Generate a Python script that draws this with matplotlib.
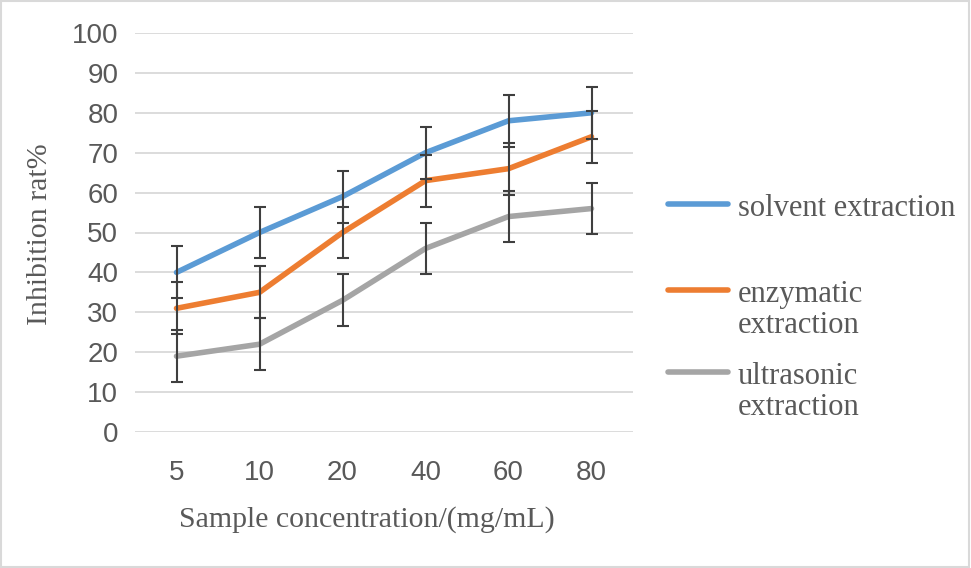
import matplotlib.pyplot as plt
from matplotlib.lines import Line2D
from matplotlib.patches import Rectangle

# data
concentrations = ["5", "10", "20", "40", "60", "80"]
solvent = [40, 50, 59, 70, 78, 80]
enzymatic = [31, 35, 50, 63, 66, 74]
ultrasonic = [19, 22, 33, 46, 54, 56]
solvent_err = [6.5, 6.5, 6.5, 6.5, 6.5, 6.5]
enzymatic_err = [6.5, 6.5, 6.5, 6.5, 6.5, 6.5]
ultrasonic_err = [6.5, 6.5, 6.5, 6.5, 6.5, 6.5]

series_names = ["solvent extraction", "enzymatic\nextraction", "ultrasonic\nextraction"]
colors = ["#5B9BD5", "#ED7D31", "#A5A5A5"]

W, H = 971, 568
fig = plt.figure(figsize=(W / 100, H / 100), dpi=100)
ax = fig.add_axes([135 / W, 1 - 432 / H, (633 - 135) / W, (432 - 33) / H])

x = list(range(len(concentrations)))
for vals, errs, c in zip([solvent, enzymatic, ultrasonic],
                         [solvent_err, enzymatic_err, ultrasonic_err], colors):
    ax.plot(x, vals, color=c, lw=4, solid_capstyle='round', zorder=3)
    ax.errorbar(x, vals, yerr=errs, fmt='none', ecolor='#3F3F3F',
                elinewidth=1.5, capsize=4, capthick=1.5, zorder=4)

ax.set_xlim(-0.5, len(x) - 0.5)
ax.set_ylim(0, 100)
ax.set_yticks(range(0, 101, 10))
ax.set_xticks(x)
ax.set_xticklabels(concentrations)
ax.grid(axis='y', color='#D9D9D9', lw=1.3)
ax.set_axisbelow(True)
for s in ax.spines.values():
    s.set_visible(False)
ax.tick_params(length=0, labelsize=20, labelcolor='#595959')
ax.tick_params(axis='y', pad=12)
ax.tick_params(axis='x', pad=20)
for lab in ax.get_xticklabels() + ax.get_yticklabels():
    lab.set_family('Liberation Sans')

ax.set_xlabel("Sample concentration/(mg/mL)", family='Liberation Serif',
              fontsize=21.5, color='#595959')
ax.xaxis.set_label_coords((367 - 135) / (633 - 135), -(520 - 432) / (432 - 33))
ax.xaxis.label.set_va('center')
ax.set_ylabel("Inhibition rat%", family='Liberation Serif',
              fontsize=21.5, color='#595959')
ax.yaxis.set_label_coords(-(135 - 40) / (633 - 135), (432 - 234) / (432 - 33))
ax.yaxis.label.set_va('center')

# legend drawn by hand so the line sits at the first text line
legend_y = [204, 290, 372]
for name, c, ly in zip(series_names, colors, legend_y):
    fig.add_artist(Line2D([668 / W, 728 / W], [1 - ly / H, 1 - ly / H],
                          color=c, lw=4, solid_capstyle='round'))
    fig.text(738 / W, 1 - (ly - 10) / H, name, family='Liberation Serif',
             fontsize=22, color='#595959', va='top', ha='left', linespacing=1.1)

# thin border round the chart
fig.add_artist(Rectangle((0.001, 0.002), 0.997, 0.996, transform=fig.transFigure,
                         fill=False, ec='#D9D9D9', lw=1.5))

fig.savefig("out.png", dpi=100)
